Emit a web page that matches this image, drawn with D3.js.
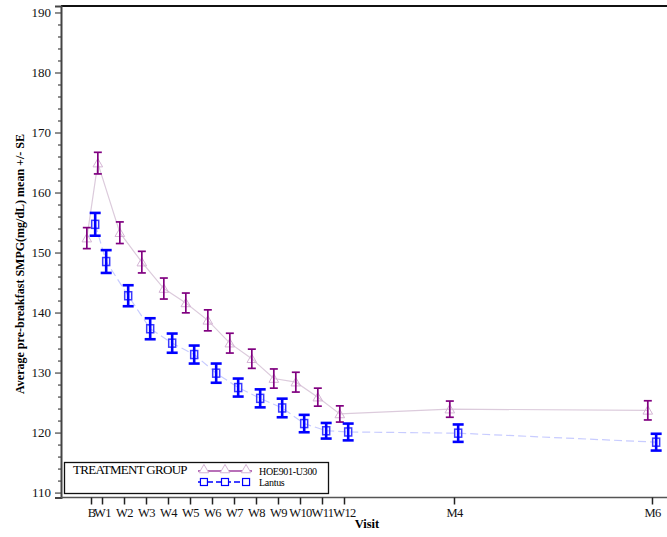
<!DOCTYPE html>
<html>
<head>
<meta charset="utf-8">
<script src="https://cdn.jsdelivr.net/npm/d3@7"></script>
<style>
  body { margin: 0; background: #fff; }
  text { font-family: "Liberation Serif", "Times New Roman", serif; }
</style>
</head>
<body>
<div id="chart"></div>
<script>
// visits on the x axis, and their position in weeks
const visits = ['B','W1','W2','W3','W4','W5','W6','W7','W8','W9','W10','W11','W12','M4','M6'];
const weeks  = [0.5,1,2,3,4,5,6,7,8,9,10,11,12,17,26];

// HOE901-U300 mean and SE
const u300Mean = [152.4,164.9,153.3,148.4,144.0,141.6,138.7,134.9,132.3,129.0,128.4,125.9,123.1,123.9,123.7];
const u300Se   = [1.75,1.8,1.8,1.8,1.75,1.65,1.75,1.65,1.6,1.6,1.65,1.5,1.35,1.35,1.6];

// Lantus mean and SE
const lantusMean = [154.7,148.5,142.8,137.3,134.9,133.0,129.9,127.5,125.7,124.1,121.5,120.3,120.1,119.9,118.4];
const lantusSe   = [1.9,1.9,1.75,1.75,1.6,1.5,1.6,1.5,1.5,1.55,1.45,1.3,1.4,1.45,1.4];

const yMajor = [110,120,130,140,150,160,170,180,190];

drawChart();

function drawChart(){
    let width = 667, height = 537;
    let left = 61, right = 672, top = 6, bottom = 497.5;

    let svg = d3.select('#chart').append('svg')
        .attr('width', width)
        .attr('height', height);

    // scales
    let x = d3.scaleLinear().domain([-0.864, 26.91]).range([left, right]);
    let y = d3.scaleLinear().domain([109.18, 191.08]).range([bottom, top]);
    let dodge = 0.19; // weeks

    // frame top
    svg.append('line')
        .attr('x1', left).attr('x2', right)
        .attr('y1', top).attr('y2', top)
        .attr('stroke', '#111').attr('stroke-width', 2);

    // y axis
    let yAxis = svg.append('g')
        .attr('transform', 'translate(' + left + ',0)')
        .call(d3.axisLeft(y).tickValues(yMajor).tickSize(6).tickPadding(4));
    let minor = d3.range(110, 191, 2).filter(function(v){ return v % 10 !== 0; });
    svg.append('g')
        .attr('transform', 'translate(' + left + ',0)')
        .call(d3.axisLeft(y).tickValues(minor).tickSize(3).tickFormat(''))
        .call(function(g){ g.select('.domain').remove(); });
    yAxis.select('.domain').attr('stroke', '#444').attr('stroke-width', 2);
    svg.selectAll('.tick line').attr('stroke', '#444').attr('stroke-width', 1.2);
    yAxis.selectAll('text')
        .attr('font-size', 13)
        .attr('fill', '#111')
        .style('font-family', '"Liberation Serif", serif');

    // x axis
    let xAxis = svg.append('g')
        .attr('transform', 'translate(0,' + bottom + ')')
        .call(d3.axisBottom(x).tickValues(weeks).tickSize(7).tickPadding(4)
            .tickFormat(function(d, i){ return visits[i]; }));
    xAxis.select('.domain').attr('stroke', '#555').attr('stroke-width', 1.5)
        .attr('d', 'M' + left + ',0H' + right);
    xAxis.selectAll('.tick line').attr('stroke', '#222').attr('stroke-width', 1.5);
    xAxis.selectAll('text')
        .attr('font-size', 12.5)
        .attr('fill', '#111')
        .attr('letter-spacing', -0.6)
        .style('font-family', '"Liberation Serif", serif');

    // axis titles
    svg.append('text')
        .attr('x', 367).attr('y', 528)
        .attr('text-anchor', 'middle')
        .attr('font-size', 12.5).attr('font-weight', 'bold')
        .text('Visit');
    svg.append('text')
        .attr('transform', 'translate(24,264) rotate(-90)')
        .attr('text-anchor', 'middle')
        .attr('font-size', 12).attr('font-weight', 'bold')
        .text('Average pre-breakfast SMPG(mg/dL) mean +/- SE');

    let u300 = weeks.map(function(w, i){ return {x: w - dodge, m: u300Mean[i], se: u300Se[i]}; });
    let lantus = weeks.map(function(w, i){ return {x: w + dodge, m: lantusMean[i], se: lantusSe[i]}; });

    let line = d3.line()
        .x(function(d){ return x(d.x); })
        .y(function(d){ return y(d.m); });

    // connecting lines
    svg.append('path').datum(u300)
        .attr('d', line).attr('fill', 'none')
        .attr('stroke', '#dccbdc').attr('stroke-width', 1.2);
    svg.append('path').datum(lantus)
        .attr('d', line).attr('fill', 'none')
        .attr('stroke', '#c8ccff').attr('stroke-width', 1.2)
        .attr('stroke-dasharray', '8,4');

    let tri = d3.symbol().type(d3.symbolTriangle).size(40);

    // U300 markers
    let g1 = svg.append('g');
    g1.selectAll('path.tri').data(u300).enter().append('path')
        .attr('class', 'tri')
        .attr('d', tri)
        .attr('transform', function(d){ return 'translate(' + x(d.x) + ',' + (y(d.m) + 1) + ')'; })
        .attr('fill', 'none').attr('stroke', '#d4b4d4').attr('stroke-width', 1);
    drawBars(g1, u300, '#800080', 1.7, 4);

    // Lantus markers
    let g2 = svg.append('g');
    g2.selectAll('rect.sq').data(lantus).enter().append('rect')
        .attr('class', 'sq')
        .attr('x', function(d){ return x(d.x) - 3.5; })
        .attr('y', function(d){ return y(d.m) - 4; })
        .attr('width', 7).attr('height', 8)
        .attr('fill', 'none').attr('stroke', '#3b3bff').attr('stroke-width', 1.5);
    drawBars(g2, lantus, '#0000ff', 2.6, 5.5);

    function drawBars(g, rows, color, sw, cap){
        let bar = g.selectAll('g.bar').data(rows).enter().append('g').attr('class', 'bar');
        bar.append('line')
            .attr('x1', function(d){ return x(d.x); }).attr('x2', function(d){ return x(d.x); })
            .attr('y1', function(d){ return y(d.m + d.se); }).attr('y2', function(d){ return y(d.m - d.se); })
            .attr('stroke', color).attr('stroke-width', sw);
        [1, -1].forEach(function(s){
            bar.append('line')
                .attr('x1', function(d){ return x(d.x) - cap; }).attr('x2', function(d){ return x(d.x) + cap; })
                .attr('y1', function(d){ return y(d.m + s * d.se); }).attr('y2', function(d){ return y(d.m + s * d.se); })
                .attr('stroke', color).attr('stroke-width', sw);
        });
    }

    // legend
    let lg = svg.append('g');
    lg.append('rect')
        .attr('x', 64.5).attr('y', 462.5).attr('width', 264).attr('height', 31)
        .attr('fill', '#fff').attr('stroke', '#111').attr('stroke-width', 1.3);
    lg.append('text')
        .attr('x', 73).attr('y', 474)
        .attr('font-size', 13).attr('letter-spacing', -0.7)
        .text('TREATMENT GROUP');
    let lx = d3.scaleLinear().domain([0, 1]).range([198, 252]);
    lg.append('line')
        .attr('x1', lx(0)).attr('x2', lx(1)).attr('y1', 471).attr('y2', 471)
        .attr('stroke', '#a040a0').attr('stroke-width', 1.3);
    lg.append('line')
        .attr('x1', lx(0)).attr('x2', lx(1)).attr('y1', 482).attr('y2', 482)
        .attr('stroke', '#0000ff').attr('stroke-width', 1.3)
        .attr('stroke-dasharray', '6,3');
    [0.11, 0.5, 0.89].forEach(function(t){
        lg.append('path').attr('d', tri)
            .attr('transform', 'translate(' + lx(t) + ',470)')
            .attr('fill', '#fff').attr('stroke', '#d4b4d4');
        lg.append('rect')
            .attr('x', lx(t) - 3.5).attr('y', 478.5).attr('width', 7).attr('height', 7)
            .attr('fill', '#fff').attr('stroke', '#0000ff').attr('stroke-width', 1.2);
    });
    lg.append('text').attr('x', 259).attr('y', 475)
        .attr('font-size', 10).attr('letter-spacing', -0.3).text('HOE901-U300');
    lg.append('text').attr('x', 259).attr('y', 486)
        .attr('font-size', 10).attr('letter-spacing', -0.3).text('Lantus');
}
</script>
</body>
</html>
